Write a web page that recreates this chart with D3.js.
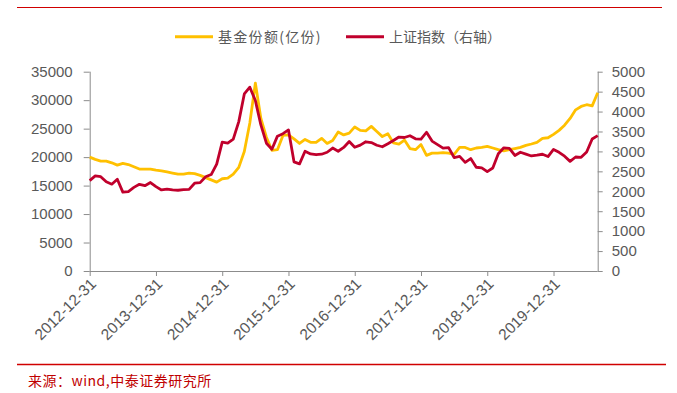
<!DOCTYPE html>
<html>
<head>
<meta charset="utf-8">
<script src="https://cdn.jsdelivr.net/npm/d3@7"></script>
<style>
  body { margin: 0; background: #fff; }
  svg { display: block; }
</style>
</head>
<body>
<div id="chart"></div>
<script>
// monthly data, 2012-12 .. 2020-08
var months = d3.timeMonths(new Date(2012, 11, 1), new Date(2020, 8, 1));

// 基金份额 (亿份), left axis
var fundShares = [20000,19600,19300,19300,19000,18600,18900,18700,18300,17900,17900,17900,
  17700,17600,17400,17200,17000,17000,17200,17100,16800,16400,16000,15600,
  16200,16300,17000,18200,21000,26000,33000,26800,23500,21200,21300,23800,
  23900,23200,22400,23100,22600,22600,23300,22400,22900,24400,23900,24200,
  25300,24700,24600,25400,24500,23600,24100,22500,22300,23000,21500,21300,
  22200,20300,20700,20700,20800,20700,20500,21700,21700,21300,21600,21700,
  21900,21600,21300,21100,21300,21500,21700,22050,22300,22600,23300,23400,
  24000,24700,25600,26800,28300,28900,29200,29000,31300];

// 上证指数, right axis
var shIndex = [2269,
  2385,2366,2237,2178,2301,1979,1994,2098,2175,2141,2220,2116,
  2033,2056,2033,2026,2039,2048,2202,2217,2364,2420,2683,3235,
  3210,3310,3748,4442,4612,4277,3664,3206,3053,3383,3445,3539,
  2738,2688,3004,2938,2917,2930,2979,3085,3005,3100,3250,3104,
  3159,3242,3223,3155,3117,3192,3273,3361,3349,3393,3317,3307,
  3481,3259,3169,3082,3095,2847,2876,2725,2821,2603,2588,2494,
  2585,2941,3091,3078,2899,2979,2933,2886,2905,2929,2872,3050,
  2977,2880,2750,2860,2852,2985,3310,3396];

var xTickLabels = ["2012-12-31","2013-12-31","2014-12-31","2015-12-31",
  "2016-12-31","2017-12-31","2018-12-31","2019-12-31"];
var leftTicks = [0,5000,10000,15000,20000,25000,30000,35000];
var rightTicks = [0,500,1000,1500,2000,2500,3000,3500,4000,4500,5000];

var width = 677, height = 393;
var plotLeft = 89.7, plotRight = 597.7, plotTop = 71.7, plotBottom = 271;
var axisColor = "#8c8c8c", textColor = "#595959";
var yellow = "#ffc000", red = "#c0002c";

var svg = d3.select("#chart").append("svg")
  .attr("width", width).attr("height", height)
  .style("background", "#fff");

var x = d3.scalePoint().domain(d3.range(months.length)).range([plotLeft, plotRight]);
var yL = d3.scaleLinear().domain([0, 35000]).range([plotBottom, plotTop]);
var yR = d3.scaleLinear().domain([0, 5000]).range([plotBottom, plotTop]);

// top and bottom red rules
svg.append("line").attr("x1", 17).attr("x2", 662).attr("y1", 7.5).attr("y2", 7.5)
  .attr("stroke", "#d00000").attr("stroke-width", 1);
svg.append("line").attr("x1", 17).attr("x2", 666).attr("y1", 364.5).attr("y2", 364.5)
  .attr("stroke", "#d00000").attr("stroke-width", 1.3);

// left axis
var gL = svg.append("g").attr("transform", "translate(" + plotLeft + ",0)")
  .call(d3.axisLeft(yL).tickValues(leftTicks).tickSize(6).tickPadding(11).tickFormat(d3.format("d")));
// right axis
var gR = svg.append("g").attr("transform", "translate(" + plotRight + ",0)")
  .call(d3.axisRight(yR).tickValues(rightTicks).tickSize(5).tickPadding(9).tickFormat(d3.format("d")));
// bottom axis, a tick every 12 months
var xTickIdx = xTickLabels.map(function(d, i) { return i * 12; });
var gX = svg.append("g").attr("transform", "translate(0," + plotBottom + ")")
  .call(d3.axisBottom(x).tickValues(xTickIdx).tickSize(5)
    .tickFormat(function(d, i) { return xTickLabels[i]; }));

[gL, gR, gX].forEach(function(g) {
  g.select(".domain").attr("stroke", axisColor).attr("stroke-width", 1);
  g.selectAll(".tick line").attr("stroke", axisColor);
  g.selectAll("text").attr("fill", textColor)
    .style("font-family", "'Liberation Sans', Arial, sans-serif").style("font-size", "15px");
});
gX.select(".domain").attr("d", "M" + plotLeft + ",0.5H" + plotRight);
gL.select(".domain").attr("d", "M0.5," + plotTop + "V" + plotBottom);
gR.select(".domain").attr("d", "M0.5," + plotTop + "V" + plotBottom);

gX.selectAll("text")
  .attr("text-anchor", "end")
  .attr("dy", "0.35em")
  .attr("transform", "translate(3,10) rotate(-45)")
  .attr("x", 0).attr("y", 0)
  .style("font-size", "15.5px");

// lines
var lineL = d3.line().x(function(d, i) { return x(i); }).y(function(d) { return yL(d); });
var lineR = d3.line().x(function(d, i) { return x(i); }).y(function(d) { return yR(d); });

svg.append("path").datum(fundShares).attr("d", lineL)
  .attr("fill", "none").attr("stroke", yellow).attr("stroke-width", 2.8).attr("stroke-linejoin", "round");
svg.append("path").datum(shIndex).attr("d", lineR)
  .attr("fill", "none").attr("stroke", red).attr("stroke-width", 2.8).attr("stroke-linejoin", "round");

// legend
var legend = [
  { name: "基金份额(亿份)", color: yellow, x: 175, spacing: 1.3 },
  { name: "上证指数（右轴）", color: red, x: 346, spacing: 0 }
];
var lg = svg.append("g").selectAll("g").data(legend).enter().append("g")
  .attr("transform", function(d) { return "translate(" + d.x + ",36.7)"; });
lg.append("line").attr("x1", 0).attr("x2", 38).attr("y1", 0).attr("y2", 0)
  .attr("stroke", function(d) { return d.color; }).attr("stroke-width", 3);
lg.append("text").attr("x", 43).attr("dy", "0.36em")
  .attr("fill", textColor)
  .style("font-family", "'Noto Sans CJK SC', sans-serif").style("font-size", "14px")
  .style("letter-spacing", function(d) { return d.spacing + "px"; })
  .text(function(d) { return d.name; });

// source note
svg.append("text").attr("x", 28).attr("y", 381).attr("dy", "0.35em")
  .attr("fill", "#c00000")
  .style("font-family", "'Noto Sans CJK SC', sans-serif").style("font-size", "14px")
  .style("letter-spacing", "0.5px")
  .text("来源：wind,中泰证券研究所");
</script>
</body>
</html>
